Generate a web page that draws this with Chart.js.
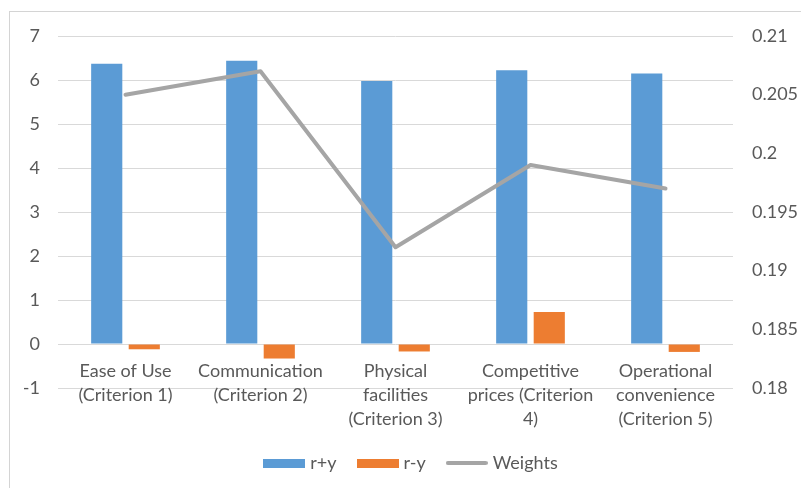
<!DOCTYPE html>
<html>
<head>
<meta charset="utf-8">
<script src="https://cdn.jsdelivr.net/npm/chart.js@4.4.0/dist/chart.umd.min.js"></script>
<style>
  html, body { margin: 0; padding: 0; background: #fff; }
  #frame { position: absolute; left: 9px; top: 11px; width: 830px; height: 520px;
           border: 1px solid #d4d4d4; box-sizing: border-box; }
  #wrap { position: absolute; left: 0; top: 0; width: 801px; height: 488px; }
</style>
</head>
<body>
<div id="frame"></div>
<div id="wrap"><canvas id="c" width="801" height="488"></canvas></div>
<script>
// Criteria shown on the category axis (one entry per line of the label)
const categories = [
  ['Ease of Use', '(Criterion 1)'],
  ['Communication', '(Criterion 2)'],
  ['Physical', 'facilities', '(Criterion 3)'],
  ['Competitive', 'prices (Criterion', '4)'],
  ['Operational', 'convenience', '(Criterion 5)']
];

// Series values
const rPlusY  = [6.37, 6.44, 5.98, 6.22, 6.15];
const rMinusY = [-0.12, -0.33, -0.17, 0.73, -0.18];
const weights = [0.205, 0.207, 0.192, 0.199, 0.197];

// Axis tick labels
const leftTicks  = ['-1', '0', '1', '2', '3', '4', '5', '6', '7'];
const rightTicks = ['0.18', '0.185', '0.19', '0.195', '0.2', '0.205', '0.21'];

const TEXT = '#595959';
const BLUE = '#5b9bd5', ORANGE = '#ed7d31', GREY = '#a5a5a5';
Chart.defaults.font.family = 'Lato, "Open Sans", sans-serif';
Chart.defaults.color = TEXT;

// Small legend swatches: a flat bar block and a short thick line
function swatchBar(color) {
  const cv = document.createElement('canvas');
  cv.width = 42; cv.height = 9;
  const g = cv.getContext('2d');
  g.fillStyle = color; g.fillRect(0, 0, 42, 9);
  return cv;
}
function swatchLine(color) {
  const cv = document.createElement('canvas');
  cv.width = 42; cv.height = 6;
  const g = cv.getContext('2d');
  g.strokeStyle = color; g.lineWidth = 4; g.lineCap = 'round';
  g.beginPath(); g.moveTo(2, 3); g.lineTo(40, 3); g.stroke();
  return cv;
}
const swatches = [swatchBar(BLUE), swatchBar(ORANGE), swatchLine(GREY)];

new Chart(document.getElementById('c'), {
  data: {
    labels: categories,
    datasets: [
      {
        type: 'bar', label: 'r+y', data: rPlusY, yAxisID: 'y', order: 1,
        backgroundColor: BLUE, categoryPercentage: 0.556, barPercentage: 0.83
      },
      {
        type: 'bar', label: 'r-y', data: rMinusY, yAxisID: 'y', order: 1,
        backgroundColor: ORANGE, categoryPercentage: 0.556, barPercentage: 0.83
      },
      {
        type: 'line', label: 'Weights', data: weights, yAxisID: 'y1', order: 0,
        borderColor: GREY, backgroundColor: GREY, borderWidth: 4,
        pointRadius: 0, tension: 0, borderCapStyle: 'round', borderJoinStyle: 'round'
      }
    ]
  },
  options: {
    responsive: false,
    animation: false,
    layout: { padding: { top: 36, bottom: 6, left: 24, right: 0 } },
    scales: {
      x: {
        position: { y: 0 },
        grid: { display: false, drawTicks: false },
        border: { display: false },
        ticks: {
          autoSkip: false, maxRotation: 0, minRotation: 0, padding: 15,
          color: TEXT, font: { size: 18, lineHeight: 24 / 18 }
        }
      },
      y: {
        position: 'left', min: -1, max: 7,
        grid: { color: '#d9d9d9', lineWidth: 1, drawTicks: false },
        border: { display: false },
        ticks: {
          stepSize: 1, padding: 18, color: TEXT, font: { size: 18 },
          callback: (v, i) => leftTicks[i]
        },
        afterFit: s => { s.width = 34; }
      },
      y1: {
        position: 'right', min: 0.18, max: 0.21,
        grid: { display: false, drawTicks: false },
        border: { display: false },
        ticks: {
          stepSize: 0.005, padding: 19, color: TEXT, font: { size: 18 },
          callback: (v, i) => rightTicks[i]
        },
        afterFit: s => { s.width = 68; }
      }
    },
    plugins: {
      tooltip: { enabled: false },
      legend: {
        position: 'bottom',
        // empty title used as spacing between the axis labels and the legend row
        title: { display: true, text: '', padding: { top: 30, bottom: 0 }, font: { size: 10, lineHeight: 1.2 } },
        labels: {
          usePointStyle: true, pointStyleWidth: 34, boxHeight: 9, padding: 24,
          color: TEXT, font: { size: 18 },
          sort: (a, b) => a.datasetIndex - b.datasetIndex,
          generateLabels: chart => {
            const items = Chart.defaults.plugins.legend.labels.generateLabels(chart);
            items.forEach(it => { it.pointStyle = swatches[it.datasetIndex]; });
            return items;
          }
        }
      }
    }
  }
});
</script>
</body>
</html>
